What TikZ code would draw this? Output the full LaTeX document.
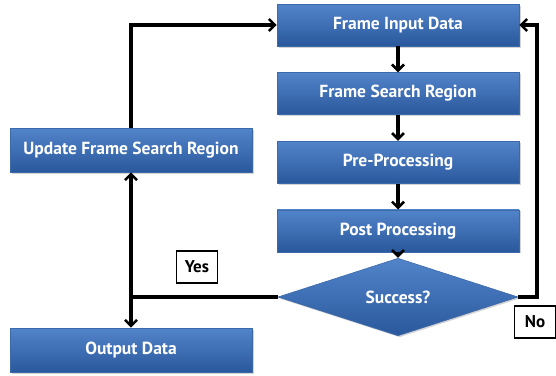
\documentclass[tikz,border=0pt]{standalone}
\usepackage{fontspec}
\setmainfont{PT Sans}
\usepackage{tikz}
\usetikzlibrary{positioning,shapes.geometric,shadows,arrows.meta}
\definecolor{boxtop}{RGB}{82,132,202}
\definecolor{boxbot}{RGB}{42,88,156}
\definecolor{boxline}{RGB}{60,105,170}

\begin{document}
\begin{tikzpicture}[x=1pt,y=-1pt,->,>={Straight Barb[length=6pt,width=12pt,line width=2.6pt]},line width=3.2pt,
      node distance=26pt,
      main node/.style={rectangle,draw=boxline,line width=0.6pt,top color=boxtop,bottom color=boxbot,
        minimum width=242pt,minimum height=42pt,text=white,font=\fontsize{17.5}{20}\selectfont\bfseries,
        drop shadow={opacity=0.35,shadow xshift=1.5pt,shadow yshift=-1.5pt}},
      test node/.style={main node,diamond,minimum width=240pt,minimum height=50pt,inner sep=0pt},
      label node/.style={rectangle,draw=black,line width=1.8pt,fill=white,text=black,inner sep=2pt,
        minimum width=41pt,minimum height=32pt,font=\fontsize{17}{19}\selectfont\bfseries}]
      \useasboundingbox (0,0) rectangle (556,375);

      \node[main node] (fid) at (398,25) {Frame Input Data};
      \node[main node] (fsr) [below=of fid] {Frame Search Region};
      \node[main node] (pre) [below=of fsr] {Pre-Processing};
      \node[main node] (post) [below=of pre] {Post Processing};
      \node[test node] (succ) at (398,297) {Success?};
      \node[main node,minimum height=44pt] (upd) at (131,150) {Update Frame Search Region};
      \node[main node,minimum height=44pt] (out) at (131,350) {Output Data};
      \node[label node] (yes) at (197,267) {Yes};
      \node[label node] (no) at (535,322) {No};

      \coordinate (j) at (upd.south |- succ.west);
      \coordinate (r) at (537,297);

      \path[->]
        (fid) edge (fsr)
        (fsr) edge (pre)
        (pre) edge (post)
        (post) edge (succ);

      \draw[-] (succ.west) -- (j);
      \draw (j) -- (upd.south);
      \draw (j) -- (out.north);
      \draw (upd.north) |- (fid.west);
      \draw (succ.east) -- (r) |- (fid.east);
    \end{tikzpicture}
\end{document}
